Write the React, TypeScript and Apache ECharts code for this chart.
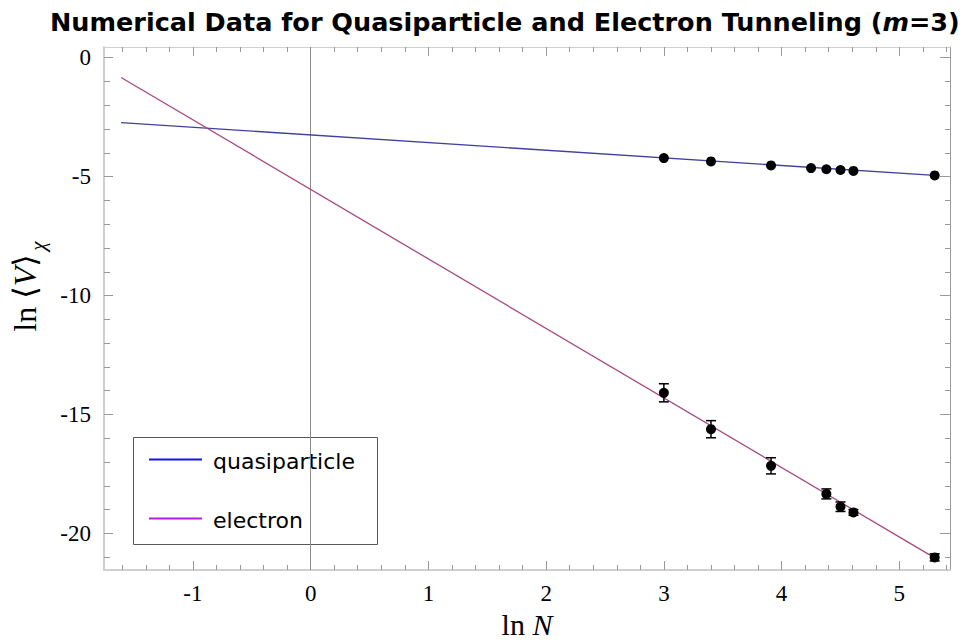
import React, { useEffect, useRef } from "react";
import * as echarts from "echarts";

// ---- data ----
const lnN_quasi = [3.0, 3.4, 3.91, 4.25, 4.38, 4.5, 4.61, 5.3];
const lnV_quasi = [-4.22, -4.36, -4.53, -4.64, -4.69, -4.72, -4.76, -4.95];

const lnN_electron = [3.0, 3.4, 3.91, 4.38, 4.5, 4.61, 5.3];
const lnV_electron = [-14.09, -15.62, -17.16, -18.34, -18.88, -19.12, -21.01];
const err_electron = [0.38, 0.36, 0.34, 0.21, 0.2, 0.12, 0.15];

// fitted lines (end points)
const fitX = [-1.61, 5.3];
const fitQuasiY = [-2.73, -4.95];
const fitElectronY = [-0.83, -21.03];

// axes
const xMin = -1.755;
const xMax = 5.43;
const yMin = -21.54;
const yMax = 0.45;
const xMajorTicks = [-1, 0, 1, 2, 3, 4, 5];
const xMinorTicks = [
  -1.6, -1.4, -1.2, -0.8, -0.6, -0.4, -0.2, 0.2, 0.4, 0.6, 0.8, 1.2, 1.4, 1.6,
  1.8, 2.2, 2.4, 2.6, 2.8, 3.2, 3.4, 3.6, 3.8, 4.2, 4.4, 4.6, 4.8, 5.2, 5.4,
];
const yMajorTicks = [0, -5, -10, -15, -20];
const yMinorTicks = [
  -1, -2, -3, -4, -6, -7, -8, -9, -11, -12, -13, -14, -16, -17, -18, -19, -21,
];

const legendNames = ["quasiparticle", "electron"];

const SERIF = "'Liberation Serif', 'DejaVu Serif', serif";
const SANS = "'DejaVu Sans', sans-serif";

function buildOption(): echarts.EChartsCoreOption {
  const frameLight = "#cfcfcf";
  const frameDark = "#9a9a9a";
  const tickColor = "#999";

  const xAxisBase = (position: "bottom" | "top", ticks: number[], len: number, showLine: boolean, lineColor: string) => ({
    type: "value",
    position,
    min: xMin,
    max: xMax,
    axisLine: { show: showLine, onZero: false, lineStyle: { color: lineColor, width: position === "bottom" ? 2 : 1 } },
    axisTick: { show: true, inside: true, length: len, customValues: ticks, lineStyle: { color: tickColor, width: 1 } },
    axisLabel: { show: false },
    splitLine: { show: false },
  });
  const yAxisBase = (position: "left" | "right", ticks: number[], len: number, showLine: boolean, lineColor: string) => ({
    type: "value",
    position,
    min: yMin,
    max: yMax,
    axisLine: { show: showLine, onZero: false, lineStyle: { color: lineColor, width: position === "left" ? 2 : 1 } },
    axisTick: { show: true, inside: true, length: len, customValues: ticks, lineStyle: { color: tickColor, width: 1 } },
    axisLabel: { show: false },
    splitLine: { show: false },
  });

  const xMain: any = xAxisBase("bottom", xMajorTicks, 9, true, frameLight);
  xMain.axisLabel = {
    show: true,
    customValues: xMajorTicks,
    margin: 12,
    fontFamily: SERIF,
    fontSize: 23,
    color: "#000",
    formatter: (v: number) => String(v),
  };
  xMain.name = "{a|ln }{b|N}";
  xMain.nameLocation = "middle";
  xMain.nameGap = 41;
  xMain.nameTextStyle = {
    lineHeight: 24,
    rich: {
      a: { fontFamily: SERIF, fontSize: 30, lineHeight: 24, color: "#000" },
      b: { fontFamily: SERIF, fontSize: 30, lineHeight: 24, fontStyle: "italic", color: "#000" },
    },
  };

  const yMain: any = yAxisBase("left", yMajorTicks, 9, true, frameLight);
  yMain.axisLabel = {
    show: true,
    customValues: yMajorTicks,
    margin: 13,
    fontFamily: SERIF,
    fontSize: 23,
    color: "#000",
    formatter: (v: number) => String(v),
  };

  const errData = lnN_electron.map((x, i) => [x, lnV_electron[i] - err_electron[i], lnV_electron[i] + err_electron[i]]);

  return {
    animation: false,
    backgroundColor: "#fff",
    title: {
      text: "{a|Numerical Data for Quasiparticle and Electron Tunneling (}{b|m}{a|=3)}",
      left: 45,
      top: 4,
      textStyle: {
        rich: {
          a: { fontFamily: SANS, fontWeight: "bold", fontSize: 25.5, color: "#000" },
          b: { fontFamily: SANS, fontWeight: "bold", fontStyle: "italic", fontSize: 25.5, color: "#000" },
        },
      },
    },
    grid: { left: 104, right: 15, top: 47, bottom: 70, containLabel: false, outerBoundsMode: "none" },
    xAxis: [
      xMain,
      xAxisBase("bottom", xMinorTicks, 5, false, frameLight),
      xAxisBase("top", xMajorTicks, 9, true, frameLight),
      xAxisBase("top", xMinorTicks, 5, false, frameLight),
    ],
    yAxis: [
      yMain,
      yAxisBase("left", yMinorTicks, 6, false, frameLight),
      yAxisBase("right", yMajorTicks, 10, true, frameDark),
      yAxisBase("right", yMinorTicks, 5, false, frameDark),
    ],
    series: [
      {
        name: "quasiparticle fit",
        type: "line",
        xAxisIndex: 0,
        yAxisIndex: 0,
        data: fitX.map((x, i) => [x, fitQuasiY[i]]),
        symbol: "none",
        lineStyle: { color: "#40409f", width: 1.3 },
        z: 2,
        markLine: {
          silent: true,
          symbol: "none",
          label: { show: false },
          lineStyle: { color: "#8a8a8a", width: 1, type: "solid" },
          data: [{ xAxis: 0 }],
          z: 1,
        },
      },
      {
        name: "electron fit",
        type: "line",
        xAxisIndex: 0,
        yAxisIndex: 0,
        data: fitX.map((x, i) => [x, fitElectronY[i]]),
        symbol: "none",
        lineStyle: { color: "#a6497f", width: 1.3 },
        z: 2,
      },
      {
        name: "electron errors",
        type: "custom",
        xAxisIndex: 0,
        yAxisIndex: 0,
        data: errData,
        encode: { x: 0, y: [1, 2] },
        z: 3,
        renderItem: (params: any, api: any) => {
          const x = api.value(0);
          const lo = api.coord([x, api.value(1)]);
          const hi = api.coord([x, api.value(2)]);
          const w = 5;
          const st = { stroke: "#000", lineWidth: 1.5 };
          return {
            type: "group",
            children: [
              { type: "line", shape: { x1: lo[0], y1: lo[1], x2: hi[0], y2: hi[1] }, style: st },
              { type: "line", shape: { x1: lo[0] - w, y1: lo[1], x2: lo[0] + w, y2: lo[1] }, style: st },
              { type: "line", shape: { x1: hi[0] - w, y1: hi[1], x2: hi[0] + w, y2: hi[1] }, style: st },
            ],
          };
        },
      },
      {
        name: "quasiparticle data",
        type: "scatter",
        xAxisIndex: 0,
        yAxisIndex: 0,
        data: lnN_quasi.map((x, i) => [x, lnV_quasi[i]]),
        symbol: "circle",
        symbolSize: 10,
        itemStyle: { color: "#000", opacity: 1 },
        z: 4,
      },
      {
        name: "electron data",
        type: "scatter",
        xAxisIndex: 0,
        yAxisIndex: 0,
        data: lnN_electron.map((x, i) => [x, lnV_electron[i]]),
        symbol: "circle",
        symbolSize: 10,
        itemStyle: { color: "#000", opacity: 1 },
        z: 4,
      },
    ],
    graphic: [
      // y axis name
      {
        type: "group",
        x: 25,
        y: 293,
        rotation: Math.PI / 2,
        children: [
          {
            type: "text",
            x: 0,
            y: 0,
            style: {
              text: "{a|ln ⟨}{b|V}{a|⟩}",
              align: "center",
              verticalAlign: "middle",
              rich: {
                a: { fontFamily: SERIF, fontSize: 32, fill: "#000" },
                b: { fontFamily: SERIF, fontSize: 32, fontStyle: "italic", fill: "#000" },
              },
            },
          },
          {
            type: "text",
            x: 47,
            y: 13,
            style: {
              text: "χ",
              align: "center",
              verticalAlign: "middle",
              fontFamily: SERIF,
              fontSize: 21,
              fontStyle: "italic",
              fill: "#000",
            },
          },
        ],
      },
      // legend
      {
        type: "group",
        x: 0,
        y: 0,
        z: 10,
        children: [
          {
            type: "rect",
            shape: { x: 133.5, y: 437.5, width: 244, height: 107 },
            style: { fill: "#fff", stroke: "#555", lineWidth: 1 },
          },
          {
            type: "line",
            shape: { x1: 149, y1: 459.5, x2: 202, y2: 459.5 },
            style: { stroke: "#1414e6", lineWidth: 2 },
          },
          {
            type: "text",
            x: 213,
            y: 461,
            style: { text: legendNames[0], fontFamily: SANS, fontSize: 22, fill: "#000", verticalAlign: "middle" },
          },
          {
            type: "line",
            shape: { x1: 149, y1: 518.5, x2: 202, y2: 518.5 },
            style: { stroke: "#b01ee6", lineWidth: 2 },
          },
          {
            type: "text",
            x: 213,
            y: 520,
            style: { text: legendNames[1], fontFamily: SANS, fontSize: 22, fill: "#000", verticalAlign: "middle" },
          },
        ],
      },
    ],
  };
}

export default function App() {
  const ref = useRef<HTMLDivElement>(null);
  useEffect(() => {
    if (!ref.current) return;
    const chart = echarts.init(ref.current, undefined, { renderer: "svg" });
    chart.setOption(buildOption());
    return () => chart.dispose();
  }, []);
  return (
    <div
      ref={ref}
      style={{ position: "fixed", left: 0, top: 0, width: 965, height: 640, background: "#fff" }}
    />
  );
}
